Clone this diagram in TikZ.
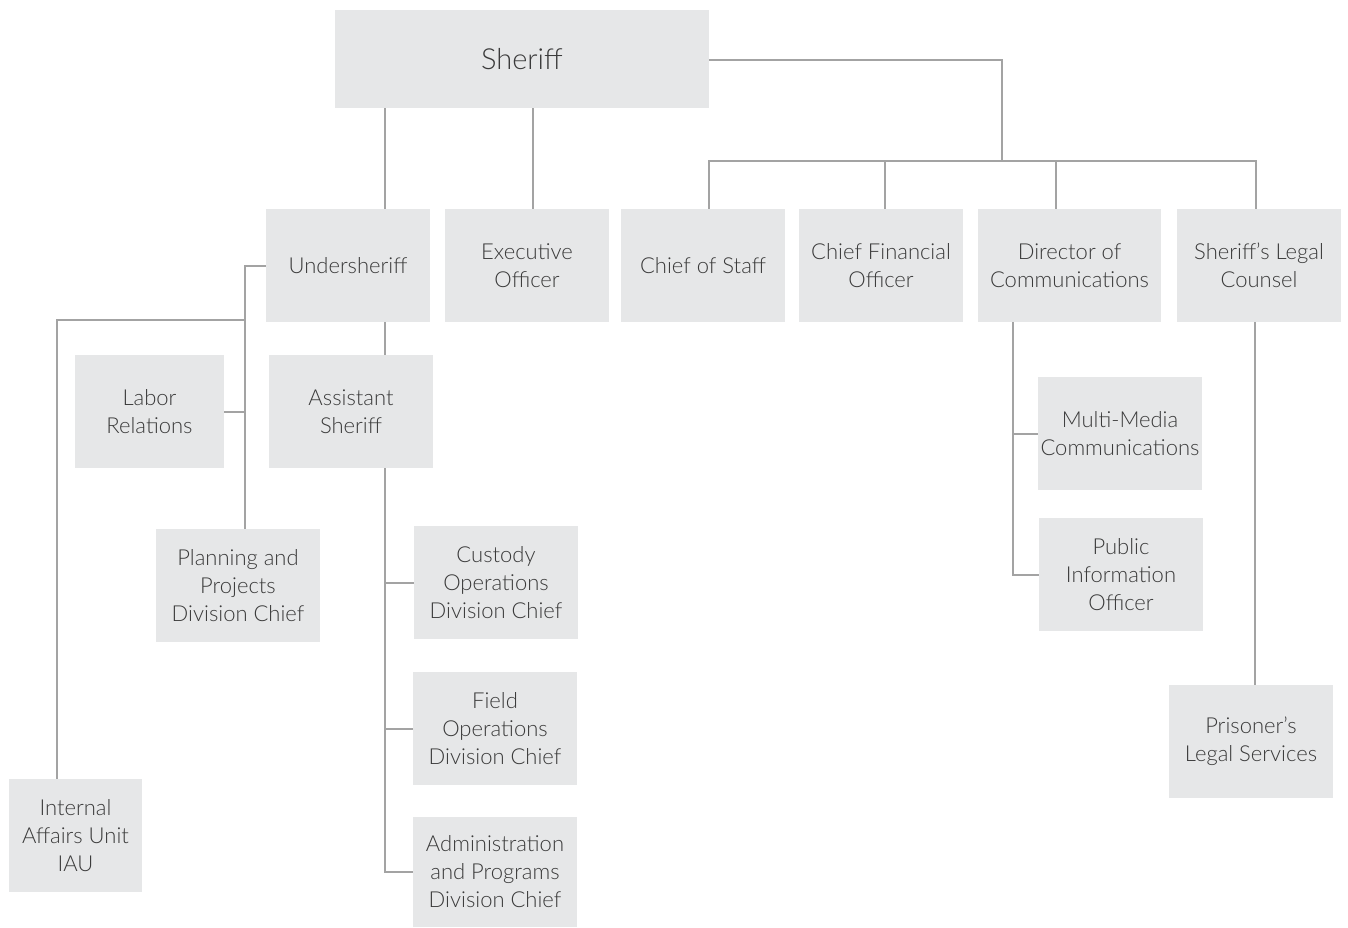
\documentclass[tikz,border=0pt]{standalone}
\usepackage{fontspec}
\setmainfont{Lato}[UprightFont=* Light]
\usepackage{tikz}

\definecolor{boxgray}{HTML}{E6E7E8}
\definecolor{linegray}{HTML}{A3A3A3}
\definecolor{textgray}{HTML}{3A3A3A}

\begin{document}
\begin{tikzpicture}[
            x=1pt, y=-1pt,
            box/.style={fill=boxgray, minimum width=164pt, minimum height=113pt,
                inner sep=0pt, align=center, text=textgray,
                font=\fontsize{22}{28}\selectfont},
            link/.style={draw=linegray, line width=2pt}
        ]
            \useasboundingbox (0,0) rectangle (1348,928);

            % top row
            \node[box, minimum width=374pt, minimum height=98pt,
                font=\fontsize{29}{34}\selectfont] (sheriff) at (522,59) {Sheriff};
            \node[box] (under) at (348,265.5) {Undersheriff};
            \node[box] (exec) at (527,265.5) {Executive\\Officer};
            \node[box] (cos) at (703,265.5) {Chief of Staff};
            \node[box] (cfo) at (881,265.5) {Chief Financial\\Officer};
            \node[box, minimum width=183pt] (dircomm) at (1069.5,265.5) {Director of\\Communications};
            \node[box] (legal) at (1259,265.5) {Sheriff’s Legal\\Counsel};

            % under the undersheriff
            \node[box, minimum width=149pt] (labor) at (149.5,411.5) {Labor\\Relations};
            \node[box] (asst) at (351,411.5) {Assistant\\Sheriff};
            \node[box] (plan) at (238,585.5) {Planning and\\Projects\\Division Chief};
            \node[box, minimum width=133pt] (iau) at (75.5,835.5) {Internal\\Affairs Unit\\IAU};
            \node[box] (custody) at (496,582.5) {Custody\\Operations\\Division Chief};
            \node[box] (field) at (495,728.5) {Field\\Operations\\Division Chief};
            \node[box, minimum height=110pt] (admin) at (495,872) {Administration\\and Programs\\Division Chief};

            % communications and counsel
            \node[box] (media) at (1120,433.5) {Multi-Media\\Communications};
            \node[box] (pio) at (1121,574.5) {Public\\Information\\Officer};
            \node[box] (prisoner) at (1251,741.5) {Prisoner’s\\Legal Services};

            % joints
            \coordinate (bus) at (1002,161);
            \coordinate (spine) at ([xshift=7pt]plan.north);
            \coordinate (iaujoin) at (245,320);
            \coordinate (aspine) at ([xshift=34pt]asst.south);
            \coordinate (dspine) at ([xshift=-56.5pt]dircomm.south);

            % sheriff
            \draw[link] ([xshift=37pt]under.north) -- ([xshift=37pt]under.north |- sheriff.south);
            \draw[link] ([xshift=6pt]exec.north) -- ([xshift=6pt]exec.north |- sheriff.south);
            \draw[link] ([yshift=-1pt]sheriff.east) -| (bus);
            \draw[link] ([xshift=6pt]cos.north) |- (bus) -| ([xshift=-3pt]legal.north);
            \draw[link] ([xshift=4pt]cfo.north) -- ([xshift=4pt]cfo.north |- bus);
            \draw[link] ([xshift=-13.5pt]dircomm.north) -- ([xshift=-13.5pt]dircomm.north |- bus);

            % undersheriff
            \draw[link] (under.west) -| (spine);
            \draw[link] (labor.east) -- (labor.east -| spine);
            \draw[link] ([xshift=-18.5pt]iau.north) |- (iaujoin);
            \draw[link] ([xshift=34pt]asst.north) -- ([xshift=34pt]asst.north |- under.south);

            % assistant sheriff
            \draw[link] (aspine) |- (admin.west);
            \draw[link] (custody.west) -- (custody.west -| aspine);
            \draw[link] (field.west) -- (field.west -| aspine);

            % communications
            \draw[link] (dspine) |- (pio.west);
            \draw[link] (media.west) -- (media.west -| dspine);
            \draw[link] ([xshift=4pt]prisoner.north) -- ([xshift=4pt]prisoner.north |- legal.south);
        \end{tikzpicture}
\end{document}
